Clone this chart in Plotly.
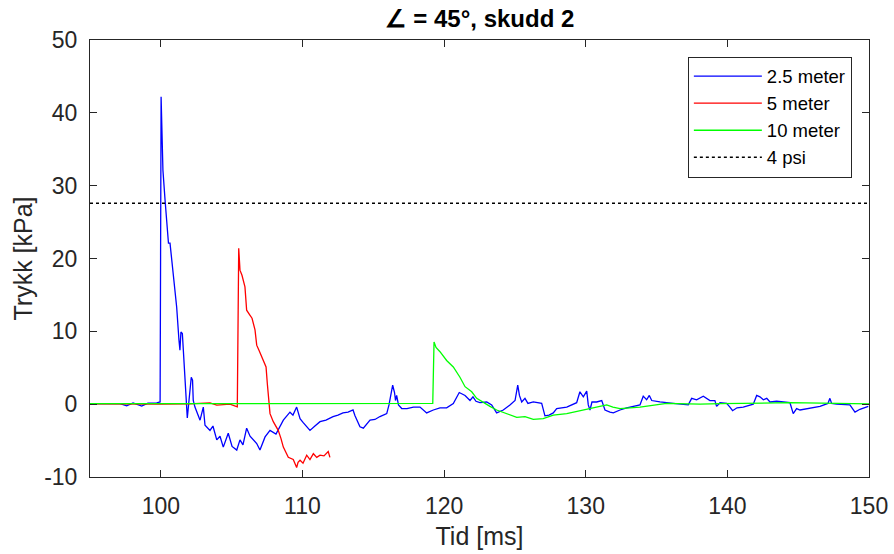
import plotly.graph_objects as go

# 2.5 meter sensor
t_blue = [95, 96.06, 97.12, 97.59, 98.04, 98.65, 99.09, 99.71, 99.95, 100.02, 100.06, 100.15, 100.30, 100.46,
          100.54, 100.65, 100.88, 101.12, 101.28, 101.35, 101.42, 101.52, 101.59, 101.71, 101.87, 101.99,
          102.15, 102.24, 102.29, 102.41, 102.55, 102.77, 103.00, 103.12, 103.47, 103.68, 103.95, 104.18,
          104.41, 104.76, 105.03, 105.36, 105.59, 105.8, 106.06, 106.30, 106.77, 107.00, 107.36, 107.71,
          108.13, 108.65, 109.12, 109.33, 109.59, 109.83, 110.04, 110.30, 110.53, 110.88, 111.24, 111.66,
          112.16, 112.51, 112.86, 113.22, 113.57, 113.71, 114.06, 114.30, 114.77, 115.12, 115.47, 115.95,
          116.11, 116.37, 116.50, 116.57, 116.65, 116.78, 117.01, 117.38, 117.83, 118.30, 118.77, 119.24,
          119.71, 120.18, 120.65, 121.07, 121.48, 121.83, 122.04, 122.25, 122.53, 123.01, 123.36, 123.71,
          124.18, 124.65, 125.01, 125.20, 125.32, 125.48, 125.71, 125.92, 126.30, 126.89, 127.12, 127.41,
          127.71, 127.95, 128.66, 129.36, 129.59, 129.83, 130.07, 130.18, 130.30, 130.44, 130.77, 131.13,
          131.36, 131.71, 131.95, 132.42, 132.89, 133.83, 134.06, 134.30, 134.49, 134.66, 135.24, 136.18,
          137.24, 137.48, 137.83, 138.30, 138.77, 139.12, 139.24, 139.48, 139.95, 140.18, 140.37, 140.68,
          141.12, 141.83, 142.07, 142.30, 142.54, 142.78, 143.01, 143.48, 144.42, 144.65, 144.89, 145.13,
          145.83, 146.54, 147.10, 147.24, 147.36, 147.71, 148.65, 149.01, 149.36, 149.95]
p_blue = [0.07, 0.1, 0.07, -0.23, 0.18, -0.27, 0.14, 0.18, 0.3, 42.2, 37.6, 32.1, 28.0, 23.0,
          22.1, 22.1, 18.0, 13.3, 8.8, 7.4, 9.9, 9.7, 7.4, 3.7, -1.9, 0.5,
          3.7, 3.3, 0.5, -0.4, -1.1, -2.2, -0.4, -2.9, -3.6, -3.0, -4.9, -4.4,
          -5.9, -4.0, -5.8, -6.3, -4.9, -5.6, -3.3, -4.4, -5.4, -6.3, -4.5, -3.6,
          -4.1, -2.2, -1.1, -1.5, -0.4, -2.0, -2.5, -3.1, -3.6, -3.0, -2.4, -2.2,
          -1.7, -1.5, -1.2, -1.1, -0.8, -1.6, -3.1, -3.3, -2.2, -2.1, -1.7, -1.3,
          -0.1, 2.6, 1.6, 0.5, 1.2, -0.1, -0.6, -0.6, -0.4, -0.4, -1.2, -0.8,
          -0.5, -0.5, 0.1, 1.6, 1.2, 0.5, 1.0, 0.4, 0.2, 0.3, -0.1, -1.2,
          -0.8, -0.1, 0.5, 2.6, 1.2, 0.3, 0.8, 0.1, 0.3, 0.1, -1.6, -1.5,
          -1.2, -0.6, -0.4, 0.2, 1.7, 1.0, 1.8, -0.1, -0.8, 0.3, 0.3, 0.5,
          -0.8, -1.1, -1.2, -0.8, -0.5, -0.1, 1.1, 0.6, 1.2, 0.5, 0.3, 0.1,
          -0.1, 0.8, 0.6, 1.1, 0.5, 0.5, -0.3, 0.2, 0.1, -0.4, -0.9, -0.5,
          -0.4, 0.0, 1.2, 1.0, 0.6, 0.8, 0.3, 0.4, 0.2, -1.3, -0.6, -0.8,
          -0.5, -0.3, 0.1, 0.8, 0.1, 0.0, -0.1, -1.1, -0.7, -0.3]

# 5 meter sensor
t_red = [95, 98, 100, 102, 103.47, 103.95, 104.88, 105.40, 105.50, 105.59, 105.73, 105.94, 106.06, 106.30,
         106.44, 106.65, 106.77, 106.93, 107.12, 107.28, 107.43, 107.52, 107.60, 107.71, 107.94, 108.29,
         108.48, 108.65, 109.00, 109.35, 109.59, 109.69, 109.83, 110.04, 110.30, 110.53, 110.77, 111.01,
         111.24, 111.52, 111.82, 111.94]
p_red = [0.05, 0.0, 0.0, 0.05, 0.18, -0.14, 0.0, -0.37, 21.4, 18.4, 17.7, 16.1, 12.9, 12.2,
         11.8, 10.2, 8.1, 7.4, 6.5, 6.0, 5.1, 2.8, 0.5, -1.3, -2.4, -3.6,
         -4.7, -5.9, -7.3, -7.6, -8.7, -8.0, -7.7, -8.1, -7.0, -7.6, -6.8, -7.3,
         -7.0, -7.1, -6.5, -7.3]

# 10 meter sensor
t_green = [95, 105, 115, 119.2, 119.29, 119.43, 119.71, 120.18, 120.65, 121.12, 121.48, 121.95, 122.30,
           122.77, 123.24, 123.71, 124.42, 125.13, 125.71, 126.30, 127.00, 127.71, 128.66, 129.59, 130.53,
           131.48, 131.92, 132.42, 133.83, 135.71, 138.07, 139.5, 144.4, 147.2, 150]
p_green = [0.07, 0.07, 0.1, 0.1, 8.55, 7.8, 7.2, 6.0, 5.1, 3.7, 2.4, 1.7, 0.8,
           0.2, -0.3, -0.8, -1.3, -1.8, -1.7, -2.1, -2.0, -1.5, -1.3, -0.9, -0.5,
           -0.1, -0.4, -0.6, -0.4, 0.1, 0.0, 0.07, 0.2, 0.15, 0.05]

# 4 psi reference level
t_ref = [95, 150]
p_ref = [27.58, 27.58]

x_ticks = [100, 110, 120, 130, 140, 150]
y_ticks = [-10, 0, 10, 20, 30, 40, 50]
y_tick_text = ["-10", "0", "10", "20", "30", "40", "50"]

font_family = "Liberation Sans, Arial, sans-serif"
axis_col = "#262626"

fig = go.Figure()
fig.add_trace(go.Scatter(x=t_blue, y=p_blue, mode="lines", name="2.5 meter",
                         line=dict(color="#0000FF", width=1.3)))
fig.add_trace(go.Scatter(x=t_red, y=p_red, mode="lines", name="5 meter",
                         line=dict(color="#FF0000", width=1.3)))
fig.add_trace(go.Scatter(x=t_green, y=p_green, mode="lines", name="10 meter",
                         line=dict(color="#00FF00", width=1.3)))
fig.add_trace(go.Scatter(x=t_ref, y=p_ref, mode="lines", name="4 psi",
                         line=dict(color="#000000", width=1.5, dash="dot")))

fig.update_layout(
    width=894, height=554,
    margin=dict(l=90, r=25, t=40, b=77, autoexpand=False),
    paper_bgcolor="white", plot_bgcolor="white",
    font=dict(family=font_family, color=axis_col),
    title=dict(text="<b>∠ = 45°, skudd 2</b>", x=(90 + 869) / 2 / 894, xanchor="center",
               y=1 - 19 / 554, yanchor="middle", font=dict(size=24, color="#000000")),
    showlegend=True,
    legend=dict(x=0.978, y=0.962, xanchor="right", yanchor="top",
                bgcolor="white", bordercolor="#262626", borderwidth=1,
                itemwidth=68,
                font=dict(size=18.5, color="#000000"), tracegroupgap=0),
)
fig.update_xaxes(range=[95, 150], tickvals=x_ticks, automargin=False,
                 ticks="inside", ticklen=7, tickcolor=axis_col, showline=True, linecolor=axis_col,
                 linewidth=1, mirror="ticks", showgrid=False, zeroline=False,
                 ticklabelstandoff=8,
                 tickfont=dict(size=23, color=axis_col),
                 title=dict(text="Tid [ms]", font=dict(size=25, color=axis_col), standoff=9))
fig.update_yaxes(range=[-10, 50], tickvals=y_ticks, ticktext=y_tick_text, automargin=False,
                 ticks="inside", ticklen=7, tickcolor=axis_col, showline=True, linecolor=axis_col,
                 linewidth=1, mirror="ticks", showgrid=False, zeroline=False,
                 ticklabelstandoff=7,
                 tickfont=dict(size=23, color=axis_col),
                 title=dict(text="Trykk [kPa]", font=dict(size=25, color=axis_col), standoff=4))

fig.write_html("out.html")
